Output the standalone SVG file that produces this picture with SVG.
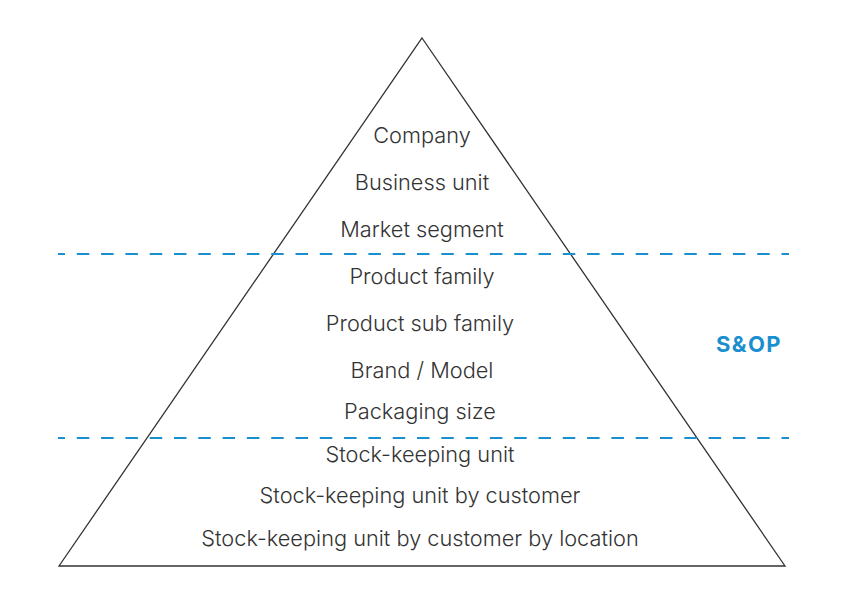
<svg xmlns="http://www.w3.org/2000/svg" width="855" height="614" viewBox="0 0 855 614">
<style>
.lbl{font-family:Inter,"Liberation Sans",sans-serif;font-weight:300;font-size:21.75px;fill:#333;text-anchor:middle}
.dash{stroke:#1a8fd0;stroke-width:2;stroke-dasharray:12.5 11.8;stroke-dashoffset:5.5;fill:none}
.sop{font-family:Inter,"Liberation Sans",sans-serif;font-weight:700;font-size:22px;letter-spacing:1.4px;fill:#1a8fd0}
</style>
<rect width="855" height="614" fill="#fff"/>
<g id="pyramid">
<polygon points="422,38 785,566 59,566" fill="none" stroke="#333" stroke-width="1.3" stroke-linejoin="miter"/>
</g>
<g id="connectors">
<line class="dash" x1="58" y1="254" x2="789" y2="254"/>
<line class="dash" x1="58" y1="438" x2="789" y2="438"/>
</g>
<g id="level-company"><text class="lbl" x="422" y="143">Company</text></g>
<g id="level-business-unit"><text class="lbl" x="422" y="190">Business unit</text></g>
<g id="level-market-segment"><text class="lbl" x="422" y="237">Market segment</text></g>
<g id="level-product-family"><text class="lbl" x="422" y="284">Product family</text></g>
<g id="level-product-sub-family"><text class="lbl" x="420" y="331">Product sub family</text></g>
<g id="level-brand-model"><text class="lbl" x="422" y="378">Brand / Model</text></g>
<g id="level-packaging-size"><text class="lbl" x="420" y="419">Packaging size</text></g>
<g id="level-sku"><text class="lbl" x="420" y="462">Stock-keeping unit</text></g>
<g id="level-sku-customer"><text class="lbl" x="420" y="503">Stock-keeping unit by customer</text></g>
<g id="level-sku-customer-location"><text class="lbl" x="420" y="546">Stock-keeping unit by customer by location</text></g>
<g id="sop-label"><text class="sop" x="716" y="352">S&amp;OP</text></g>
</svg>
